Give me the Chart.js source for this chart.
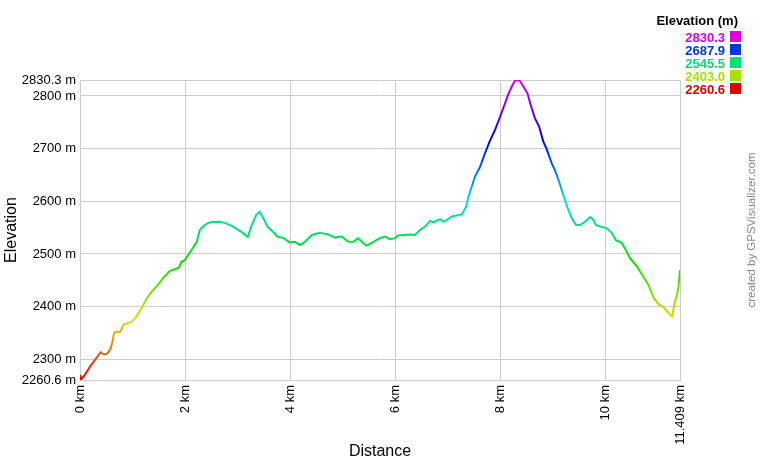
<!DOCTYPE html>
<html>
<head>
<meta charset="utf-8">
<title>Elevation profile</title>
<script src="https://cdn.jsdelivr.net/npm/chart.js@4/dist/chart.umd.min.js"></script>
<style>
  body{margin:0;background:#fff}
  #chart{display:block}
</style>
</head>
<body>
<canvas id="chart" width="760" height="460"></canvas>
<script>
// track profile: distance (km) / elevation (m)
const distKm = [0, 0.01, 0.09, 0.21, 0.31, 0.39, 0.46, 0.52, 0.58, 0.61, 0.65, 0.69, 0.77, 0.82, 0.88, 0.98,
  1.07, 1.17, 1.26, 1.36, 1.48, 1.58, 1.71, 1.80, 1.88, 1.93, 1.99, 2.05, 2.13, 2.22, 2.28, 2.37, 2.47,
  2.66, 2.78, 2.91, 3.07, 3.19, 3.26, 3.35, 3.42, 3.50, 3.57, 3.67, 3.75, 3.87, 3.99, 4.09, 4.18, 4.28,
  4.41, 4.56, 4.72, 4.85, 4.98, 5.10, 5.20, 5.29, 5.39, 5.45, 5.58, 5.70, 5.80, 5.89, 5.99, 6.05, 6.15,
  6.28, 6.37, 6.47, 6.56, 6.66, 6.72, 6.78, 6.85, 6.91, 6.97, 7.07, 7.16, 7.26, 7.34, 7.38, 7.45, 7.51,
  7.61, 7.70, 7.80, 7.89, 7.99, 8.06, 8.14, 8.21, 8.27, 8.32, 8.37, 8.43, 8.51, 8.56, 8.65, 8.73, 8.81,
  8.87, 8.97, 9.03, 9.10, 9.19, 9.27, 9.35, 9.43, 9.51, 9.60, 9.70, 9.76, 9.81, 9.89, 10.01, 10.11,
  10.19, 10.30, 10.36, 10.46, 10.59, 10.71, 10.81, 10.91, 11.00, 11.09, 11.21, 11.26, 11.30, 11.35,
  11.38, 11.409];
const elevM = [2270, 2260.6, 2270, 2289, 2302, 2313, 2309, 2311, 2320, 2330, 2350, 2352, 2352, 2365, 2368, 2371,
  2381, 2397, 2414, 2428, 2441, 2454, 2468, 2471, 2474, 2485, 2488, 2497, 2509, 2523, 2546, 2555, 2560,
  2561, 2558, 2552, 2542, 2532, 2553, 2574, 2580, 2565, 2551, 2542, 2533, 2530, 2522, 2523, 2517, 2523,
  2536, 2540, 2537, 2531, 2533, 2523, 2523, 2530, 2520, 2516, 2523, 2530, 2533, 2528, 2530, 2535, 2536,
  2537, 2536, 2546, 2552, 2563, 2560, 2563, 2566, 2561, 2564, 2571, 2573, 2575, 2589, 2606, 2628, 2647,
  2666, 2691, 2716, 2735, 2761, 2780, 2802, 2818, 2829, 2830.3, 2828, 2818, 2805, 2786, 2758, 2742, 2713,
  2700, 2672, 2659, 2640, 2612, 2588, 2568, 2555, 2555, 2561, 2570, 2565, 2555, 2552, 2549, 2540,
  2526, 2521, 2511, 2492, 2476, 2457, 2441, 2416, 2405, 2399, 2386, 2381, 2403, 2422,
  2438, 2470];

const yTicks = [2260.6, 2300, 2400, 2500, 2600, 2700, 2800, 2830.3];
const xTicks = [0, 2, 4, 6, 8, 10, 11.409];
const legendTitle = 'Elevation (m)';
const legendValues = [2830.3, 2687.9, 2545.5, 2403.0, 2260.6];
const creditText = 'created by GPSVisualizer.com';

const $ = id => document.getElementById(id);
const FONT = '"Liberation Sans", Arial, sans-serif';
const yMin = yTicks[0], yMax = yTicks[yTicks.length - 1];

// red at the lowest point through to magenta at the highest
const elevColor = v => `hsl(${Math.round(300 * (v - yMin) / (yMax - yMin))},100%,44%)`;

let grad, gradKey;
function lineColor(ctx){
  const a = ctx.chart.chartArea;
  if(!a) return '#000';
  const key = a.top + ':' + a.bottom;
  if(grad && gradKey === key) return grad;
  grad = ctx.chart.ctx.createLinearGradient(0, a.bottom, 0, a.top);
  for(let i = 0; i <= 30; i++) grad.addColorStop(i/30, elevColor(yMin + i/30*(yMax - yMin)));
  gradKey = key;
  return grad;
}

// colour key top right + credit line on the right edge
const extras = {
  id:'extras',
  afterDraw(chart){
    const c = chart.ctx;
    c.save();
    c.font = 'bold 13px ' + FONT;
    c.textAlign = 'right';
    c.textBaseline = 'alphabetic';
    c.fillStyle = '#000';
    c.fillText(legendTitle, 738, 25);
    legendValues.forEach((v, i) => {
      c.fillStyle = elevColor(v);
      c.fillText(v.toFixed(1), 725, 41.5 + i*13);
      c.fillRect(730, 31 + i*13, 11, 11);
    });
    c.translate(752, 230);
    c.rotate(-Math.PI/2);
    c.font = '11.5px ' + FONT;
    c.fillStyle = '#888';
    c.textAlign = 'center';
    c.textBaseline = 'middle';
    c.fillText(creditText, 0, 0);
    c.restore();
  }
};

Chart.defaults.font.family = FONT;
Chart.defaults.color = '#000';

new Chart($('chart'), {
  type:'line',
  data:{datasets:[{
    data: distKm.map((x, i) => ({x, y: elevM[i]})),
    borderColor: lineColor, borderWidth:2, pointRadius:0, tension:0, fill:false
  }]},
  options:{
    responsive:false, animation:false,
    layout:{padding:{top:80, right:80, left:0, bottom:0}},
    plugins:{legend:{display:false}, tooltip:{enabled:false}},
    scales:{
      x:{
        type:'linear', min:xTicks[0], max:xTicks[xTicks.length-1],
        afterBuildTicks: s => { s.ticks = xTicks.map(value => ({value})); },
        afterFit: s => { s.height = 80; },
        ticks:{minRotation:90, maxRotation:90, padding:5, autoSkip:false, font:{size:13}, callback: v => v + ' km'},
        grid:{color:'#cccccc', drawTicks:false},
        border:{color:'#cccccc'},
        title:{display:true, text:'Distance', font:{size:16, lineHeight:1}, padding:{top:0, bottom:0}}
      },
      y:{
        type:'linear', min:yMin, max:yMax,
        afterBuildTicks: s => { s.ticks = yTicks.map(value => ({value})); },
        afterFit: s => { s.width = 80; },
        ticks:{padding:4, autoSkip:false, font:{size:13}, callback: v => v + ' m'},
        grid:{color:'#cccccc', drawTicks:false},
        border:{color:'#cccccc'},
        title:{display:true, text:'Elevation', font:{size:16, lineHeight:1}, padding:{top:4, bottom:0}}
      }
    }
  },
  plugins:[extras]
});
</script>
</body>
</html>
